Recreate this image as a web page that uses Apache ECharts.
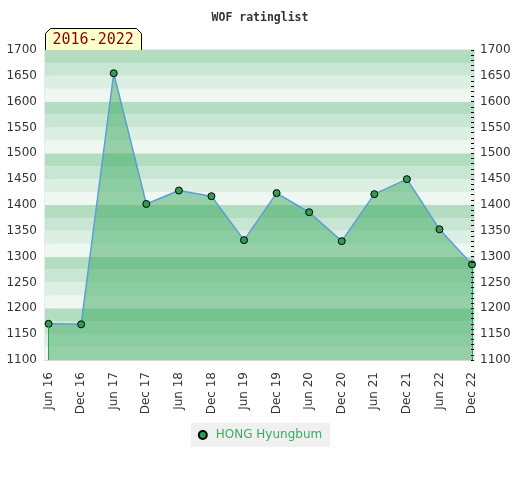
<!DOCTYPE html>
<html>
<head>
<meta charset="utf-8">
<script src="https://cdn.jsdelivr.net/npm/echarts@6/dist/echarts.min.js"></script>
<style>html,body{margin:0;padding:0;background:#fff}#c{width:520px;height:480px}</style>
</head>
<body>
<div id="c"></div>
<script>
var categories = ['Jun 16','Dec 16','Jun 17','Dec 17','Jun 18','Dec 18','Jun 19','Dec 19','Jun 20','Dec 20','Jun 21','Dec 21','Jun 22','Dec 22'];
var ratings = [1170, 1169, 1655, 1402, 1428, 1417, 1332, 1423, 1386, 1330, 1421, 1450, 1353, 1285];
var playerName = 'HONG Hyungbum';
var chartTitle = 'WOF ratinglist';
var periodLabel = '2016-2022';
var yTicks = [1100, 1150, 1200, 1250, 1300, 1350, 1400, 1450, 1500, 1550, 1600, 1650, 1700];

var bandColors = ['#eef7f1', '#dcefe3', '#c9e6d4', '#b3ddc1'];
var bands = [];
for (var v = yTicks[0]; v < yTicks[yTicks.length - 1]; v += 25) {
  var idx = Math.round((v % 100) / 25);
  bands.push([{ yAxis: v, itemStyle: { color: bandColors[idx] } }, { yAxis: v + 25 }]);
}
var yMin = yTicks[0];
var lastIdx = ratings.length - 1;

var chart = echarts.init(document.getElementById('c'), null, { renderer: 'canvas' });
var font = 'DejaVu Sans';
var plain = function (val) { return String(val); };
chart.setOption({
  animation: false,
  backgroundColor: '#fff',
  title: {
    text: chartTitle, left: 'center', top: 7,
    textStyle: { fontFamily: 'DejaVu Sans Mono', fontWeight: 'bold', fontSize: 11.5, color: '#333' }
  },
  grid: { left: 45, right: 46, top: 50, bottom: 120, show: true, borderColor: '#d4d4d4', borderWidth: 1, backgroundColor: 'transparent' },
  legend: {
    bottom: 33, left: 'center',
    backgroundColor: '#f0f0f0', padding: [6, 8, 6, 7],
    icon: 'circle', itemWidth: 8, itemHeight: 8, itemGap: 6,
    textStyle: { color: '#3aac5e', fontFamily: font, fontSize: 12, padding: [0, 0, 0, 4] },
    data: [playerName]
  },
  xAxis: {
    type: 'value', min: -0.11, max: 13.06,
    axisLine: { show: true, lineStyle: { color: '#d4d4d4' } },
    axisTick: { show: false },
    splitLine: { show: false },
    axisLabel: {
      customValues: categories.map(function (c, i) { return i; }),
      rotate: 90, margin: 12, color: '#333', fontFamily: font, fontSize: 12,
      formatter: function (val) { return categories[Math.round(val)] || ''; }
    }
  },
  yAxis: [
    {
      type: 'value', min: 1100, max: 1700, interval: 50, position: 'left',
      axisLine: { show: true, lineStyle: { color: '#d4d4d4' } },
      axisTick: { show: false }, splitLine: { show: false },
      axisLabel: { color: '#333', fontFamily: font, fontSize: 12, margin: 8, formatter: plain }
    },
    {
      type: 'value', min: 1100, max: 1700, interval: 50, position: 'right', z: 10,
      axisLine: { show: false },
      axisTick: { show: true, inside: true, length: 3, lineStyle: { color: '#000' } },
      minorTick: { show: true, splitNumber: 5, length: 3, lineStyle: { color: '#000' } },
      splitLine: { show: false },
      axisLabel: { color: '#333', fontFamily: font, fontSize: 12, margin: 6, formatter: plain }
    }
  ],
  series: [
    {
      type: 'line', name: '_bands', data: [], z: 0, silent: true,
      markArea: { silent: true, data: bands, itemStyle: { opacity: 1 } }
    },
    {
      type: 'line', name: playerName, z: 3,
      data: ratings.map(function (r, i) { return [i, r]; }),
      symbol: 'circle', symbolSize: 7,
      itemStyle: { color: '#2f9e55', borderColor: '#000', borderWidth: 1 },
      lineStyle: { color: '#5b9fd6', width: 1.5 },
      areaStyle: { color: 'rgba(60,170,95,0.5)', opacity: 1, origin: 'start' },
      markLine: {
        silent: true, symbol: 'none', label: { show: false },
        lineStyle: { color: '#2fa052', width: 1, type: 'solid' },
        data: [
          [{ coord: [0, yMin] }, { coord: [0, ratings[0]] }],
          [{ coord: [lastIdx, yMin] }, { coord: [lastIdx, ratings[lastIdx]] }]
        ]
      }
    }
  ],
  graphic: [
    {
      type: 'group', left: 45, top: 28,
      children: [
        { type: 'polygon', shape: { points: [[0, 5], [5, 0], [91, 0], [96, 5], [96, 22], [0, 22]] },
          style: { fill: '#ffffcc', stroke: '#000', lineWidth: 1 } },
        { type: 'text', x: 7, y: 12, style: { text: periodLabel, fill: '#8b0000', font: '15px "DejaVu Sans Mono"', verticalAlign: 'middle' } }
      ]
    }
  ]
});
</script>
</body>
</html>
